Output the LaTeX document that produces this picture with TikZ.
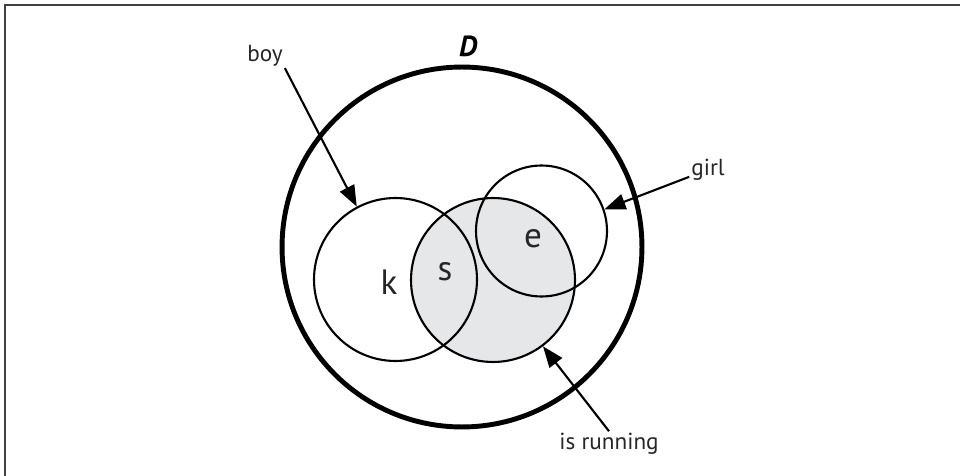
\documentclass[tikz,border=0pt]{standalone}
\usepackage{xcolor}
\usepackage{fontspec}
\setmainfont{PT Sans}
\usepackage{tikz}
\usetikzlibrary{arrows.meta}

\definecolor{runfill}{RGB}{230,231,232}

\begin{document}
\begin{tikzpicture}[
  x=0.02cm, y=-0.02cm,
  outer/.style={circle, draw=black, line width=2.8pt, inner sep=0pt, minimum size=7.2cm},
  set/.style={circle, draw=black, line width=1.2pt, inner sep=0pt},
  lbl/.style={font=\fontsize{13.2}{15}\selectfont, text=black!85, inner sep=1pt},
  elem/.style={font=\fontsize{20}{24}\selectfont, text=black!85, inner sep=0pt},
  arrow/.style={line width=1.2pt, -{Triangle[length=12pt, width=9pt]}}
]
\useasboundingbox (0,0) rectangle (960,476);
\draw[black!75, line width=1pt] (5,476) -- (5,5) -- (960,5);

% universe
\node (dom) [outer] at (462,247) {};
\node (dlbl) [font=\bfseries\itshape\fontsize{16.5}{18}\selectfont, inner sep=0pt] at (468,46) {D};

% the three sets
\node (run) [set, fill=runfill, minimum size=3.28cm] at (493,280) {};
\node (boy) [set, minimum size=3.26cm] at (395.5,279.5) {};
\node (girl) [set, minimum size=2.62cm] at (541.5,231) {};

% elements
\node (k) [elem] at (389,282) {k};
\node (s) [elem] at (445,272) {s};
\node (e) [elem] at (533,239) {e};

% labels
\node (boylbl) [lbl] at (265,55.5) {boy};
\node (girllbl) [lbl] at (708,170) {girl};
\node (runlbl) [lbl] at (609,444) {is running};

\draw [arrow] (boylbl.south east) -- (boy.118);
\draw [arrow] (girllbl.200) -- (girl.19);
\draw [arrow] (runlbl.north) -- (run.-53);
\end{tikzpicture}
\end{document}
